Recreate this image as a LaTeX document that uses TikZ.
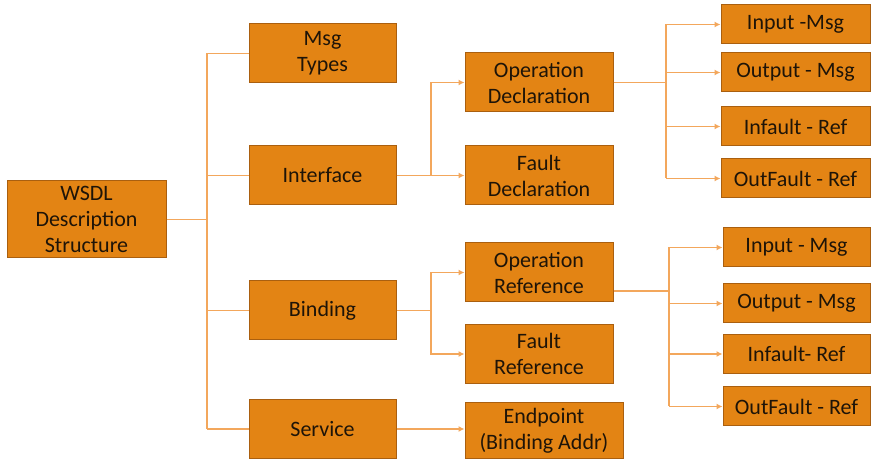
\documentclass[tikz,border=0pt]{standalone}
\usepackage{fontspec}
\setmainfont{Carlito}
\usetikzlibrary{arrows.meta}
\definecolor{boxfill}{RGB}{227,132,20}
\definecolor{boxedge}{RGB}{170,95,15}
\definecolor{linec}{RGB}{243,167,92}
\definecolor{txtc}{RGB}{30,20,8}
\begin{document}
\begin{tikzpicture}[x=1pt,y=-1pt,
  box/.style={draw=boxedge, fill=boxfill, line width=1pt, align=center, text=txtc,
    font=\fontsize{22}{26}\selectfont, inner sep=0pt},
  lvA/.style={box, minimum width=147pt, minimum height=59pt},
  lvB/.style={box, minimum width=148pt, minimum height=59pt},
  lvC/.style={box, minimum width=149pt, minimum height=39pt},
  conn/.style={draw=linec, line width=1.3pt},
  arr/.style={conn, -{Latex[length=6pt,width=6pt]}}]
\useasboundingbox (0,0) rectangle (871,462);
\fill[white] (0,0) rectangle (871,462);
% level 0
\node[box, minimum width=159pt, minimum height=77pt] (wsdl) at (86.5,219.5) {WSDL\\Description\\Structure};
% level 1
\node[lvA] (msg) at (322.5,53.5) {Msg\\Types};
\node[lvA] (iface) at (322.5,175.5) {Interface};
\node[lvA] (bind) at (322.5,310.5) {Binding};
\node[lvA] (serv) at (322.5,429) {Service};
% level 2
\node[lvB] (opdecl) at (539,82.5) {Operation\\Declaration};
\node[lvB] (fdecl) at (539,175.5) {Fault\\Declaration};
\node[lvB] (opref) at (539,272.5) {Operation\\Reference};
\node[lvB] (fref) at (539,354) {Fault\\Reference};
\node[box, minimum width=158pt, minimum height=56pt] (endp) at (544,431) {Endpoint\\(Binding Addr)};
% level 3 upper
\node[lvC] (in1) at (795.5,24.5) {Input -Msg};
\node[lvC] (out1) at (795.5,72.5) {Output - Msg};
\node[lvC] (inf1) at (795.5,126.5) {Infault - Ref};
\node[lvC] (outf1) at (795.5,178.5) {OutFault - Ref};
% level 3 lower
\node[lvC, minimum width=147pt] (in2) at (796.5,247.5) {Input - Msg};
\node[lvC, minimum width=147pt] (out2) at (796.5,303.5) {Output - Msg};
\node[lvC, minimum width=147pt] (inf2) at (796.5,354) {Infault- Ref};
\node[lvC, minimum width=147pt] (outf2) at (796.5,406.5) {OutFault - Ref};
% trunks
\coordinate (t1) at (207,0);
\coordinate (t2) at (431,0);
\coordinate (t3) at (666,0);
\coordinate (t4) at (669,0);
% level 0 -> 1
\draw[conn] (wsdl.east) -- (wsdl.east -| t1);
\draw[conn] (msg.west -| t1) -- (serv.west -| t1);
\draw[conn] (msg.west -| t1) -- (msg.west);
\draw[conn] (iface.west -| t1) -- (iface.west);
\draw[conn] (bind.west -| t1) -- (bind.west);
\draw[conn] (serv.west -| t1) -- (serv.west);
% interface
\draw[arr] (iface.east) -- (fdecl.west);
\draw[arr] (iface.east -| t2) |- (opdecl.west);
% binding
\draw[conn] (bind.east) -- (bind.east -| t2);
\draw[arr] (bind.east -| t2) |- (opref.west);
\draw[arr] (bind.east -| t2) |- (fref.west);
% service
\draw[arr] (serv.east) -- (endp.west |- serv.east);
% op decl
\draw[conn] (opdecl.east) -- (opdecl.east -| t3);
\draw[conn] (in1.west -| t3) -- (outf1.west -| t3);
\draw[arr] (in1.west -| t3) -- (in1.west);
\draw[arr] (out1.west -| t3) -- (out1.west);
\draw[arr] (inf1.west -| t3) -- (inf1.west);
\draw[arr] (outf1.west -| t3) -- (outf1.west);
% op ref
\coordinate (orx) at ([yshift=-18.5pt]opref.east);
\draw[conn] (orx) -- (orx -| t4);
\draw[conn] (in2.west -| t4) -- (outf2.west -| t4);
\draw[arr] (in2.west -| t4) -- (in2.west);
\draw[arr] (out2.west -| t4) -- (out2.west);
\draw[arr] (inf2.west -| t4) -- (inf2.west);
\draw[arr] (outf2.west -| t4) -- (outf2.west);
\end{tikzpicture}
\end{document}
